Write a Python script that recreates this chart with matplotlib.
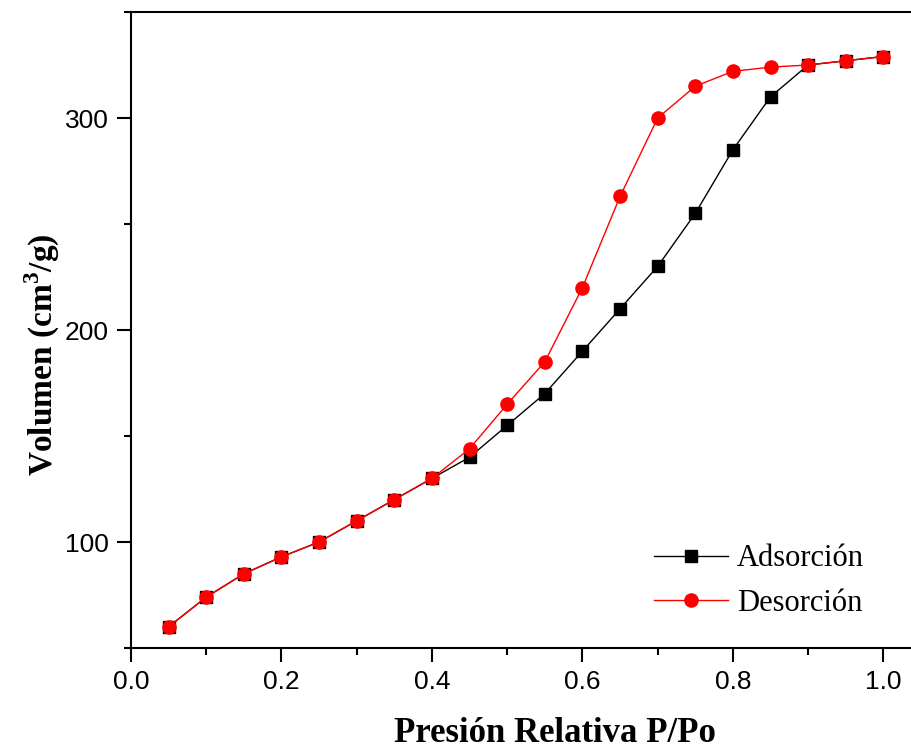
import matplotlib
matplotlib.use("Agg")
import matplotlib.pyplot as plt
from matplotlib.ticker import MultipleLocator

# relative pressure
p_rel = [0.05, 0.10, 0.15, 0.20, 0.25, 0.30, 0.35, 0.40, 0.45, 0.50,
         0.55, 0.60, 0.65, 0.70, 0.75, 0.80, 0.85, 0.90, 0.95, 1.00]

adsorcion = [60, 74, 85, 93, 100, 110, 120, 130, 140, 155,
             170, 190, 210, 230, 255, 285, 310, 325, 327, 329]

desorcion = [60, 74, 85, 93, 100, 110, 120, 130, 144, 165,
             185, 220, 263, 300, 315, 322, 324, 325, 327, 329]

plt.rcParams["mathtext.fontset"] = "custom"
plt.rcParams["mathtext.rm"] = "Liberation Serif:bold"

fig = plt.figure(figsize=(9.12, 7.5), dpi=100)
ax = fig.add_axes([131/912, 102/750, 790/912, 636/750])

ax.plot(p_rel, adsorcion, color="black", lw=1, marker="s", ms=9,
        label="Adsorción")
ax.plot(p_rel, desorcion, color="red", lw=1, marker="o", ms=9.5,
        label="Desorción")

ax.set_xlim(0, 1.05)
ax.set_ylim(50, 350)
ax.xaxis.set_major_locator(MultipleLocator(0.2))
ax.xaxis.set_minor_locator(MultipleLocator(0.1))
ax.yaxis.set_major_locator(MultipleLocator(100))
ax.yaxis.set_minor_locator(MultipleLocator(50))
ax.set_xticks([0.0, 0.2, 0.4, 0.6, 0.8, 1.0])
ax.set_xticklabels(["0.0", "0.2", "0.4", "0.6", "0.8", "1.0"])

ax.tick_params(which="both", direction="out", width=1.5, top=False, right=False)
ax.tick_params(which="major", length=10, labelsize=19, pad=6)
ax.tick_params(which="minor", length=5)
for lab in ax.get_xticklabels() + ax.get_yticklabels():
    lab.set_fontfamily("Liberation Sans")

for s in ["left", "bottom", "top"]:
    ax.spines[s].set_linewidth(1.5)
ax.spines["right"].set_visible(False)

ax.set_xlabel("Presión Relativa P/Po", fontsize=25, fontweight="bold",
              fontfamily="Liberation Serif", va="center")
ax.xaxis.set_label_coords(555/912, 1 - 733/750, transform=fig.transFigure)
ax.set_ylabel("Volumen (cm$^3$/g)", fontsize=24, fontweight="bold",
              fontfamily="Liberation Serif", va="center")
ax.yaxis.set_label_coords(42/912, 1 - 355/750, transform=fig.transFigure)

ax.legend(loc="center left", bbox_to_anchor=(639/912, 1 - 581/750),
          bbox_transform=fig.transFigure, frameon=False, borderpad=0,
          prop={"family": "Liberation Serif", "size": 22},
          handlelength=2.4, handletextpad=0.3, labelspacing=0.5)

fig.savefig("out.png", dpi=100)
